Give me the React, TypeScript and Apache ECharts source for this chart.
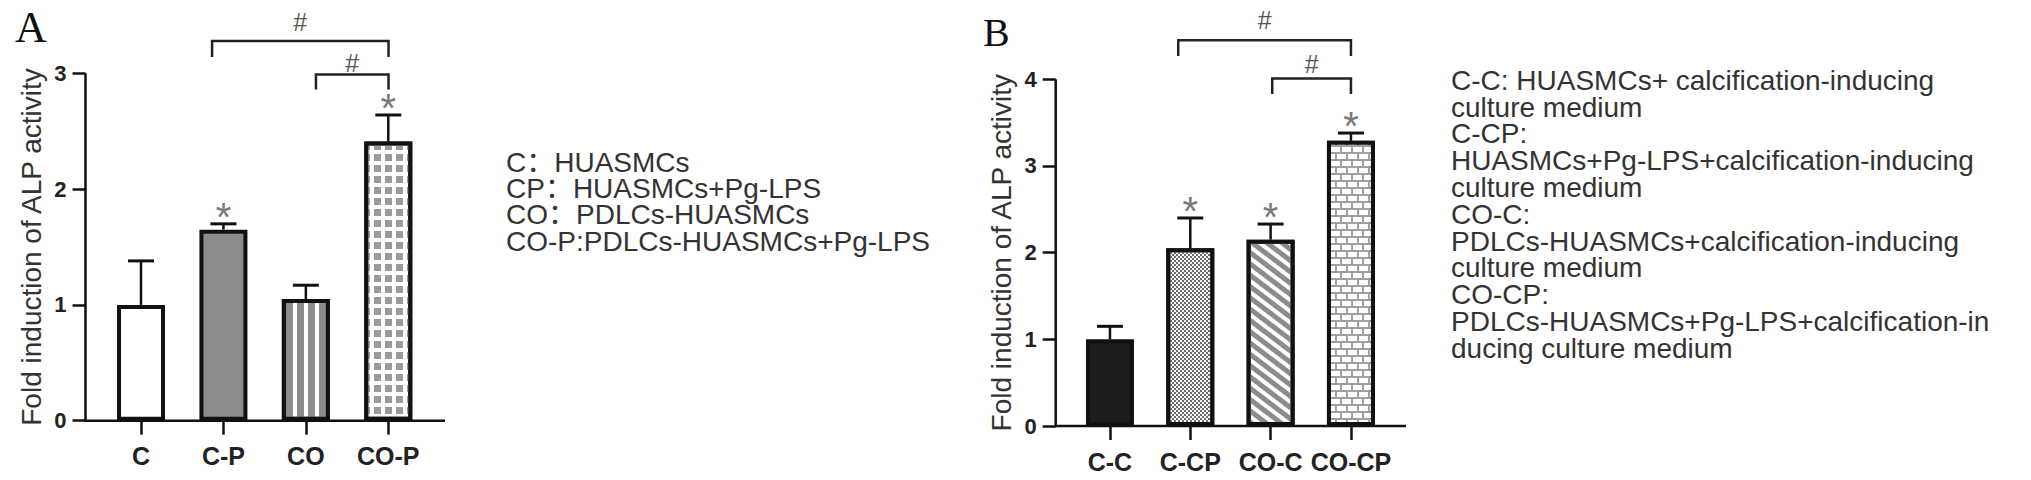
import React, { useEffect, useRef } from 'react';
import * as echarts from 'echarts';

// ---------- data ----------
const yTitle = 'Fold induction of ALP activity';

const categoriesA = ['C', 'C-P', 'CO', 'CO-P'];
const meansA = [1.0, 1.65, 1.05, 2.41];
const errorsA = [0.38, 0.05, 0.12, 0.23];
const starsA = [0, 1, 0, 1];
// [xStart, xEnd, yLine, yLegEnd, yHash]; x in category-index units
const bracketsA = [
  [0.86, 3.0, 3.28, 3.14, 3.44],
  [2.12, 3.0, 2.99, 2.86, 3.09],
];
const yMaxA = 3;
const legendA = [
  'C：HUASMCs',
  'CP：HUASMCs+Pg-LPS',
  'CO：PDLCs-HUASMCs',
  'CO-P:PDLCs-HUASMCs+Pg-LPS',
];

const categoriesB = ['C-C', 'C-CP', 'CO-C', 'CO-CP'];
const meansB = [1.0, 2.05, 2.15, 3.29];
const errorsB = [0.15, 0.35, 0.18, 0.09];
const starsB = [0, 1, 1, 1];
const bracketsB = [
  [0.85, 3.0, 4.45, 4.27, 4.68],
  [2.02, 3.0, 4.01, 3.83, 4.18],
];
const yMaxB = 4;
const legendB = [
  'C-C: HUASMCs+ calcification-inducing',
  'culture medium',
  'C-CP:',
  'HUASMCs+Pg-LPS+calcification-inducing',
  'culture medium',
  'CO-C:',
  'PDLCs-HUASMCs+calcification-inducing',
  'culture medium',
  'CO-CP:',
  'PDLCs-HUASMCs+Pg-LPS+calcification-in',
  'ducing culture medium',
];

// ---------- styles ----------
const FONT = '"Liberation Sans", Arial, "Noto Sans CJK SC", sans-serif';
const SERIF = '"Liberation Serif", "Times New Roman", serif';
const INK = '#111';

const fillsA = [
  { color: '#ffffff' },
  { color: '#8c8c8c' },
  {
    color: '#ffffff',
    decal: { symbol: 'rect', symbolSize: 1, color: '#8c8c8c', dashArrayX: [7, 4], dashArrayY: [1, 0] },
  },
  {
    color: '#ffffff',
    decal: { symbol: 'rect', symbolSize: 1, color: '#9a9a9a', dashArrayX: [7, 4], dashArrayY: [7, 4] },
  },
];
const fillsB = [
  { color: '#1c1c1c' },
  {
    color: '#ffffff',
    decal: { symbol: 'rect', symbolSize: 1, color: '#6e6e6e', dashArrayX: [[2, 2], [0, 2, 2, 0]], dashArrayY: [2, 0] },
  },
  {
    color: '#ffffff',
    decal: { symbol: 'rect', symbolSize: 1, color: '#8c8c8c', dashArrayX: [1, 0], dashArrayY: [5, 4], rotation: 0.65 },
  },
  {
    color: '#a0a0a0',
    decal: { symbol: 'rect', symbolSize: 1, color: '#ffffff', dashArrayX: [[9, 2], [4, 2, 5, 0]], dashArrayY: [5, 2] },
  },
];

const layoutA = { valueLeft: 85.5, valueWidth: 359.5, catLeft: 99.8, catWidth: 329.7, top: 73.3, height: 347.4 };
const layoutB = { valueLeft: 1055.7, valueWidth: 350.3, catLeft: 1069.8, catWidth: 321.3, top: 79.3, height: 346.7 };
// the frame axis runs from 0 to X_SPAN; the first category sits at X_SHIFT
const X_SHIFT = 0.675;
const X_SPAN = 4.36;

function errRender(params: any, api: any) {
  const i = api.value(0);
  const m = api.value(1);
  const t = api.value(2);
  const s = api.value(3);
  const pm = api.coord([i, m]);
  const pt = api.coord([i, t]);
  const children: any[] = [
    { type: 'line', shape: { x1: pm[0], y1: pm[1], x2: pt[0], y2: pt[1] }, style: { stroke: INK, lineWidth: 2.5 } },
    { type: 'line', shape: { x1: pt[0] - 13, y1: pt[1], x2: pt[0] + 13, y2: pt[1] }, style: { stroke: INK, lineWidth: 3 } },
  ];
  if (s) {
    children.push({
      type: 'text',
      x: pt[0],
      y: pt[1] - 7,
      style: { text: '*', fill: '#7a7a7a', font: '40px ' + FONT, align: 'center', verticalAlign: 'middle' },
    });
  }
  return { type: 'group', children };
}

function bracketRender(params: any, api: any) {
  const x1 = api.value(0) + X_SHIFT;
  const x2 = api.value(1) + X_SHIFT;
  const yl = api.value(2);
  const yg = api.value(3);
  const yh = api.value(4);
  const a = api.coord([x1, yg]);
  const b = api.coord([x1, yl]);
  const c = api.coord([x2, yl]);
  const d = api.coord([x2, yg]);
  const h = api.coord([(x1 + x2) / 2, yh]);
  return {
    type: 'group',
    children: [
      { type: 'polyline', shape: { points: [a, b, c, d] }, style: { stroke: '#222', lineWidth: 2.5, fill: 'none' } },
      {
        type: 'text',
        x: h[0],
        y: h[1],
        style: { text: '#', fill: '#555', font: '25px ' + FONT, align: 'center', verticalAlign: 'middle' },
      },
    ],
  };
}

// axis frame (y-axis line and baseline), drawn along the axes' own extents
function frameRender(params: any, api: any) {
  const x0 = api.value(0);
  const y0 = api.value(1);
  const x1 = api.value(2);
  const y1 = api.value(3);
  const top = api.coord([x0, y1]);
  const origin = api.coord([x0, y0]);
  const right = api.coord([x1, y0]);
  return {
    type: 'polyline',
    shape: { points: [top, origin, right] },
    style: { stroke: INK, lineWidth: 2.5, fill: 'none', lineJoin: 'miter' },
  };
}

function buildPanel(gBase: number, lay: any, cats: string[], means: number[], errs: number[], stars: number[], brackets: number[][], fills: any[], yMax: number) {
  const grids = [
    { left: lay.valueLeft, top: lay.top, width: lay.valueWidth, height: lay.height, containLabel: false },
    { left: lay.catLeft, top: lay.top, width: lay.catWidth, height: lay.height, containLabel: false },
  ];
  const xAxes = [
    {
      type: 'value', gridIndex: gBase, min: 0, max: X_SPAN,
      axisLine: { show: false },
      axisTick: { show: false }, axisLabel: { show: false }, splitLine: { show: false },
    },
    {
      type: 'category', gridIndex: gBase + 1, data: cats,
      axisLine: { show: false },
      axisTick: { show: true, alignWithLabel: true, length: 14, lineStyle: { color: INK, width: 2.5 } },
      axisLabel: { interval: 0, fontSize: 25, fontWeight: 'bold', color: '#222', margin: 23, fontFamily: FONT },
      splitLine: { show: false },
    },
  ];
  const yAxes = [
    {
      type: 'value', gridIndex: gBase, min: 0, max: yMax, interval: 1,
      name: yTitle, nameLocation: 'middle', nameGap: 40,
      nameTextStyle: { fontSize: 28, color: '#333', fontFamily: FONT },
      axisLine: { show: false },
      axisTick: { show: true, length: 13, lineStyle: { color: INK, width: 2.5 } },
      axisLabel: { fontSize: 22, fontWeight: 'bold', color: '#222', margin: 19, fontFamily: FONT },
      splitLine: { show: false },
    },
    {
      type: 'value', gridIndex: gBase + 1, min: 0, max: yMax, show: false,
      axisLine: { show: false }, splitLine: { show: false },
    },
  ];
  const series = [
    {
      type: 'custom', xAxisIndex: gBase, yAxisIndex: gBase, clip: false, silent: true, z: 1,
      encode: { x: [0, 2], y: [1, 3] },
      data: [[0, 0, X_SPAN, yMax]],
      renderItem: frameRender,
    },
    {
      type: 'bar', xAxisIndex: gBase + 1, yAxisIndex: gBase + 1, barWidth: 48, silent: true, z: 2,
      itemStyle: { borderColor: INK, borderWidth: 4 },
      data: means.map((v, i) => ({ value: v, itemStyle: { borderColor: INK, borderWidth: 4, ...fills[i] } })),
    },
    {
      type: 'custom', xAxisIndex: gBase + 1, yAxisIndex: gBase + 1, clip: false, silent: true, z: 3,
      encode: { x: 0, y: [1, 2] },
      data: means.map((m, i) => [i, m, +(m + errs[i]).toFixed(3), stars[i]]),
      renderItem: errRender,
    },
    {
      type: 'custom', xAxisIndex: gBase, yAxisIndex: gBase, clip: false, silent: true, z: 3,
      encode: { x: [0, 1], y: [2, 3, 4] },
      data: brackets,
      renderItem: bracketRender,
    },
  ];
  return { grids, xAxes, yAxes, series };
}

function buildOption() {
  const pA = buildPanel(0, layoutA, categoriesA, meansA, errorsA, starsA, bracketsA, fillsA, yMaxA);
  const pB = buildPanel(2, layoutB, categoriesB, meansB, errorsB, starsB, bracketsB, fillsB, yMaxB);
  const graphic: any[] = [
    { type: 'text', x: 15, y: 27.5, style: { text: 'A', font: '44px ' + SERIF, fill: INK, align: 'left', verticalAlign: 'middle' } },
    { type: 'text', x: 983, y: 32.5, style: { text: 'B', font: '40px ' + SERIF, fill: INK, align: 'left', verticalAlign: 'middle' } },
  ];
  legendA.forEach((t, k) => {
    graphic.push({ type: 'text', x: 506, y: 162 + k * 26.4, style: { text: t, font: '28px ' + FONT, fill: '#333', align: 'left', verticalAlign: 'middle' } });
  });
  legendB.forEach((t, k) => {
    graphic.push({ type: 'text', x: 1451, y: 80.3 + k * 26.8, style: { text: t, font: '28px ' + FONT, fill: '#333', align: 'left', verticalAlign: 'middle' } });
  });
  return {
    animation: false,
    backgroundColor: '#ffffff',
    textStyle: { fontFamily: FONT },
    grid: [...pA.grids, ...pB.grids],
    xAxis: [...pA.xAxes, ...pB.xAxes],
    yAxis: [...pA.yAxes, ...pB.yAxes],
    series: [...pA.series, ...pB.series],
    graphic,
  };
}

export default function App() {
  const ref = useRef<HTMLDivElement>(null);
  useEffect(() => {
    document.body.style.margin = '0';
    const chart = echarts.init(ref.current as HTMLDivElement, null, { renderer: 'svg' });
    chart.setOption(buildOption() as any);
    return () => chart.dispose();
  }, []);
  return (
    <div
      ref={ref}
      style={{ position: 'fixed', left: 0, top: 0, width: '2031px', height: '480px', background: '#fff' }}
    />
  );
}
